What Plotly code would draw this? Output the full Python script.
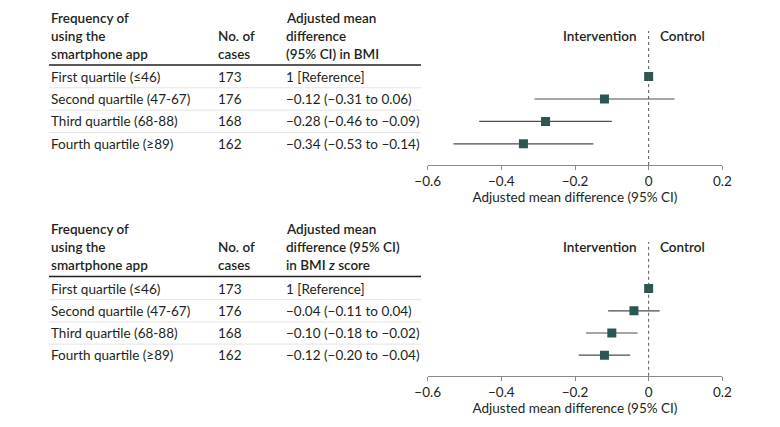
import plotly.graph_objects as go

W, H = 780, 427

# ---------------- data ----------------
quartiles = ["First quartile (≤46)", "Second quartile (47-67)",
             "Third quartile (68-88)", "Fourth quartile (≥89)"]
n_cases = ["173", "176", "168", "162"]

bmi_est = [0.0, -0.12, -0.28, -0.34]
bmi_lo = [None, -0.31, -0.46, -0.53]
bmi_hi = [None, 0.07, -0.10, -0.15]
bmi_text = ["1 [Reference]", "−0.12 (−0.31 to 0.06)",
            "−0.28 (−0.46 to −0.09)", "−0.34 (−0.53 to −0.14)"]

z_est = [0.0, -0.04, -0.10, -0.12]
z_lo = [None, -0.11, -0.17, -0.19]
z_hi = [None, 0.03, -0.03, -0.05]
z_text = ["1 [Reference]", "−0.04 (−0.11 to 0.04)",
          "−0.10 (−0.18 to −0.02)", "−0.12 (−0.20 to −0.04)"]

header_col1 = ["Frequency of", "using the", "smartphone app"]
header_col2 = ["No. of", "cases"]
header_col3_top = ["Adjusted mean", "difference", "(95% CI) in BMI"]
header_col3_bot = ["Adjusted mean", "difference (95% CI)", "in BMI <i>z</i> score"]

x_ticks = [-0.6, -0.4, -0.2, 0, 0.2]
x_ticktext = ["−0.6", "−0.4", "−0.2", "0", "0.2"]
axis_title = "Adjusted mean difference (95% CI)"
side_labels = ["Intervention", "Control"]

# ---------------- style ----------------
FONT = "Lato"
TXT = "#231f20"
MARK = "#2b5753"
FS = 13.5
OFF = 8  # page body margin in the browser

def py(p):  # target pixel y -> paper
    return 1 - (p - OFF) / H

def px(p):
    return (p - OFF) / W

fig = go.Figure()
annotations = []
shapes = []

X0, X1 = 427.7, 722.3  # plot x-domain pixels
col_x = [49.3, 215.7, 284.3]
rule_x = (49.0, 421.0)

panels = [
    dict(est=bmi_est, lo=bmi_lo, hi=bmi_hi, txt=bmi_text, hdr3=header_col3_top,
         head=[18.0, 36.0, 54.0], rule=65.0, row0=76.6, step=22.4, axis=165.0,
         top=28.0, label_y=36.0, dot_top=31.0, title_y=197.0),
    dict(est=z_est, lo=z_lo, hi=z_hi, txt=z_text, hdr3=header_col3_bot,
         head=[228.5, 246.7, 265.0], rule=276.5, row0=288.6, step=22.2, axis=375.8,
         top=238.0, label_y=247.3, dot_top=242.0, title_y=408.0),
]

for k, p in enumerate(panels):
    xa = "x" if k == 0 else "x2"
    ya = "y" if k == 0 else "y2"
    lo_idx = (p["axis"] - p["row0"]) / p["step"]
    hi_idx = (p["top"] - p["row0"]) / p["step"]
    rows = list(range(len(quartiles)))

    for i in rows:
        if p["lo"][i] is not None:
            fig.add_trace(go.Scatter(x=[p["lo"][i], p["hi"][i]], y=[i, i], mode="lines",
                                     line=dict(color="#4d4d4d", width=1.2),
                                     xaxis=xa, yaxis=ya, showlegend=False, hoverinfo="skip"))
    fig.add_trace(go.Scatter(x=p["est"], y=rows, mode="markers",
                             marker=dict(symbol="square", size=9, color=MARK,
                                         line=dict(width=0)),
                             xaxis=xa, yaxis=ya, showlegend=False))

    axis_common = dict(range=[-0.6, 0.2], tickvals=x_ticks, ticktext=x_ticktext,
                       showgrid=False, zeroline=False, showline=True, linecolor="#8a8a8a",
                       linewidth=1.2, ticks="outside", ticklen=4, tickcolor="#8a8a8a",
                       tickwidth=1.2, tickfont=dict(family=FONT, size=FS, color=TXT),
                       domain=[px(X0), px(X1)], anchor=ya, automargin=False,
                       title=dict(text=axis_title, font=dict(family=FONT, size=FS, color=TXT),
                                  standoff=4))
    yaxis_common = dict(range=[lo_idx, hi_idx], showgrid=False, zeroline=False,
                        showline=False, showticklabels=False, ticks="", automargin=False,
                        domain=[py(p["axis"]), py(p["top"])], anchor=xa)
    if k == 0:
        fig.update_layout(xaxis=axis_common, yaxis=yaxis_common)
    else:
        fig.update_layout(xaxis2=axis_common, yaxis2=yaxis_common)

    shapes.append(dict(type="line", xref=xa, yref="paper", x0=0, x1=0,
                       y0=py(p["axis"]), y1=py(p["dot_top"]),
                       line=dict(color="#555", width=1, dash="dot")))
    annotations.append(dict(xref=xa, yref="paper", x=0, y=py(p["label_y"]),
                            text=side_labels[0], xanchor="right", yanchor="middle",
                            xshift=-10, showarrow=False,
                            font=dict(family=FONT, size=FS, color=TXT, weight=600)))
    annotations.append(dict(xref=xa, yref="paper", x=0, y=py(p["label_y"]),
                            text=side_labels[1], xanchor="left", yanchor="middle",
                            xshift=9, showarrow=False,
                            font=dict(family=FONT, size=FS, color=TXT, weight=600)))

    hdr_cols = [header_col1, header_col2, p["hdr3"]]
    for c, lines in enumerate(hdr_cols):
        offs = 3 - len(lines)
        for j, line in enumerate(lines):
            annotations.append(dict(xref="paper", yref="paper", x=px(col_x[c]),
                                    y=py(p["head"][j + offs]), text=line,
                                    xanchor="left", yanchor="middle", showarrow=False,
                                    font=dict(family=FONT, size=FS, color=TXT, weight=600)))
    shapes.append(dict(type="line", xref="paper", yref="paper",
                       x0=px(rule_x[0]), x1=px(rule_x[1]),
                       y0=py(p["rule"]), y1=py(p["rule"]),
                       line=dict(color="#231f20", width=1.5)))
    for i in rows:
        for c, val in enumerate([quartiles[i], n_cases[i], p["txt"][i]]):
            annotations.append(dict(xref="paper", yref=ya, x=px(col_x[c]), y=i,
                                    text=val, xanchor="left", yanchor="middle",
                                    showarrow=False,
                                    font=dict(family=FONT, size=FS, color=TXT)))
        if i < len(rows) - 1:
            shapes.append(dict(type="line", xref="paper", yref=ya,
                               x0=px(rule_x[0]), x1=px(rule_x[1]),
                               y0=i + 0.5, y1=i + 0.5,
                               line=dict(color="#e3e3e3", width=1)))

fig.update_layout(width=W, height=H, margin=dict(l=0, r=0, t=0, b=0),
                  template="none",
                  paper_bgcolor="white", plot_bgcolor="white",
                  annotations=annotations, shapes=shapes,
                  font=dict(family=FONT, size=FS, color=TXT))

fig.write_html("out.html")
